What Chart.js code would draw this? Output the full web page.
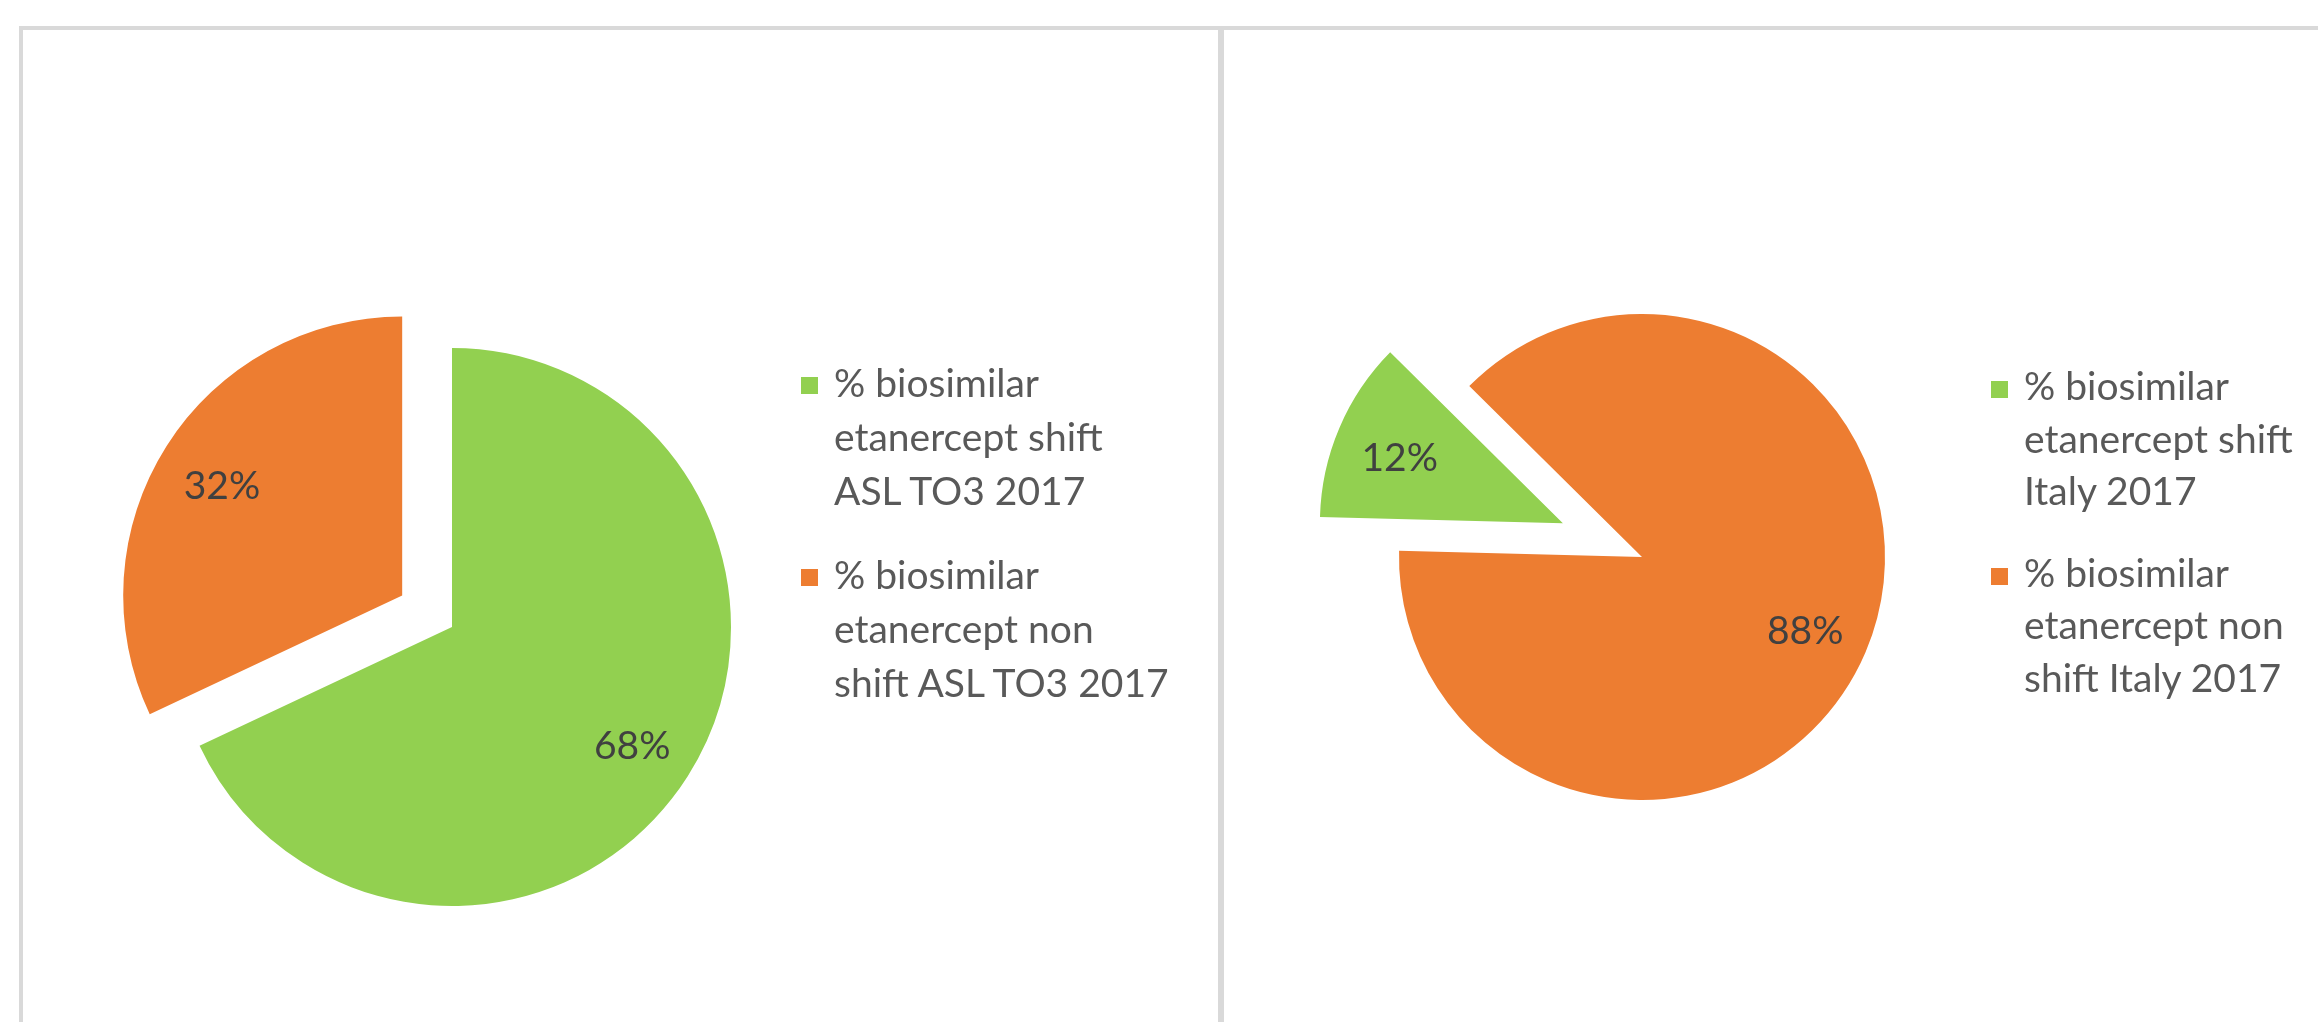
<!DOCTYPE html>
<html>
<head>
<meta charset="utf-8">
<script src="https://cdn.jsdelivr.net/npm/chart.js@4.4.0/dist/chart.umd.min.js"></script>
<style>
    html, body { margin: 0; padding: 0; background: #ffffff; }
    body { width: 2318px; height: 1022px; position: relative; overflow: hidden; font-family: Lato, "Open Sans", sans-serif; }
    .rule { position: absolute; background: #d9d9d9; }
    canvas { position: absolute; }
    .legend { position: absolute; color: #595959; font-size: 39px; }
    .legend-item { position: relative; padding-left: 33px; }
    .legend-item .box { position: absolute; left: 0; width: 17px; height: 17px; }
</style>
</head>
<body>
<div class="rule" style="left:19px; top:26px; width:2299px; height:4px;"></div>
<div class="rule" style="left:19px; top:26px; width:4px; height:996px;"></div>
<div class="rule" style="left:1218px; top:26px; width:6px; height:996px;"></div>

<canvas id="pie-asl" width="760" height="760" style="left:72px; top:247px;"></canvas>
<canvas id="pie-italy" width="700" height="700" style="left:1292px; top:207px;"></canvas>

<div class="legend" id="legend-asl" style="left:801px; top:355px;"></div>
<div class="legend" id="legend-italy" style="left:1991px; top:359px;"></div>

<script>
// ASL TO3 chart
const aslLabels = [
    ['% biosimilar', 'etanercept shift', 'ASL TO3 2017'],
    ['% biosimilar', 'etanercept non', 'shift ASL TO3 2017']
];
const aslValues = [68, 32];

// Italy chart
const italyLabels = [
    ['% biosimilar', 'etanercept shift', 'Italy 2017'],
    ['% biosimilar', 'etanercept non', 'shift Italy 2017']
];
const italyValues = [12, 88];

const sliceColors = ['#92d050', '#ed7d31'];

(function() {
    'use strict';

    /**
     * Draws exploded slices: each arc is moved out along its mid angle
     */
    const explodePlugin = {
        id: 'explode',
        beforeDatasetDraw(chart, args, opts) {
            const ctx = chart.ctx;
            const dist = opts.distances || [];
            args.meta.data.forEach((arc, i) => {
                const d = dist[i] || 0;
                const mid = (arc.startAngle + arc.endAngle) / 2;
                ctx.save();
                ctx.translate(Math.cos(mid) * d, Math.sin(mid) * d);
                arc.draw(ctx);
                ctx.restore();
            });
            return false;
        }
    };

    /**
     * Percentage labels inside the slices
     */
    const sliceLabelPlugin = {
        id: 'sliceLabels',
        afterDatasetsDraw(chart, args, opts) {
            const ctx = chart.ctx;
            const meta = chart.getDatasetMeta(0);
            const values = chart.data.datasets[0].data;
            const dist = chart.options.plugins.explode.distances || [];
            ctx.save();
            ctx.font = opts.font;
            ctx.fillStyle = opts.color;
            ctx.textAlign = 'center';
            ctx.textBaseline = 'middle';
            meta.data.forEach((arc, i) => {
                const mid = (arc.startAngle + arc.endAngle) / 2;
                const r = (dist[i] || 0) + arc.outerRadius * opts.position;
                ctx.fillText(values[i] + '%', arc.x + Math.cos(mid) * r, arc.y + Math.sin(mid) * r + (opts.dy || 0));
            });
            ctx.restore();
        }
    };

    function renderPie(canvasId, labels, values, radius, rotation, distances, labelPos) {
        const ctx = document.getElementById(canvasId);
        return new Chart(ctx, {
            type: 'pie',
            data: {
                labels: labels.map(l => l.join(' ')),
                datasets: [{
                    data: values,
                    backgroundColor: sliceColors,
                    borderWidth: 0
                }]
            },
            options: {
                responsive: false,
                animation: false,
                events: [],
                radius: radius,
                rotation: rotation,
                layout: { padding: 0 },
                plugins: {
                    legend: { display: false },
                    tooltip: { enabled: false },
                    explode: { distances: distances },
                    sliceLabels: {
                        font: '39px Lato, "Open Sans", sans-serif',
                        color: '#404040',
                        position: labelPos,
                        dy: 5
                    }
                }
            },
            plugins: [explodePlugin, sliceLabelPlugin]
        });
    }

    function renderLegend(id, labels, lineHeight, gap) {
        const el = document.getElementById(id);
        labels.forEach((lines, i) => {
            const item = document.createElement('div');
            item.className = 'legend-item';
            item.style.lineHeight = lineHeight + 'px';
            if (i > 0) item.style.marginTop = gap + 'px';
            const box = document.createElement('span');
            box.className = 'box';
            box.style.background = sliceColors[i];
            box.style.top = '22px';
            item.appendChild(box);
            lines.forEach(line => {
                const t = document.createElement('div');
                t.textContent = line;
                item.appendChild(t);
            });
            el.appendChild(item);
        });
    }

    renderPie('pie-asl', aslLabels, aslValues, 279, 0, [0, 59], 0.765);
    renderPie('pie-italy', italyLabels, italyValues, 243, 271.5, [86, 0], 0.73);

    renderLegend('legend-asl', aslLabels, 54, 30);
    renderLegend('legend-italy', italyLabels, 52.5, 29);
})();
</script>
</body>
</html>
